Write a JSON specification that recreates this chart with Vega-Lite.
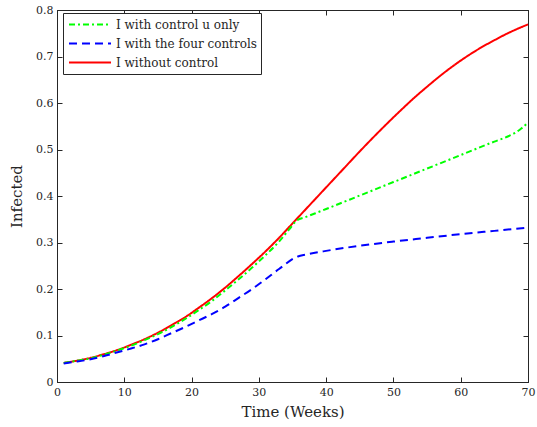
{
  "$schema": "https://vega.github.io/schema/vega-lite/v6.json",
  "width": 471,
  "height": 372,
  "autosize": {"type": "none"},
  "padding": {"left": 57, "top": 10, "right": 9, "bottom": 45},
  "background": "white",
  "config": {"view": {"stroke": "#262626", "strokeWidth": 1}, "font": "DejaVu Serif"},
  "data": {"values": [
    {"t": 1, "v": 0.041, "s": "I without control"},
    {"t": 3, "v": 0.046, "s": "I without control"},
    {"t": 5, "v": 0.052, "s": "I without control"},
    {"t": 7, "v": 0.060, "s": "I without control"},
    {"t": 9, "v": 0.069, "s": "I without control"},
    {"t": 11, "v": 0.080, "s": "I without control"},
    {"t": 13, "v": 0.092, "s": "I without control"},
    {"t": 15, "v": 0.106, "s": "I without control"},
    {"t": 17, "v": 0.122, "s": "I without control"},
    {"t": 19, "v": 0.139, "s": "I without control"},
    {"t": 21, "v": 0.159, "s": "I without control"},
    {"t": 23, "v": 0.180, "s": "I without control"},
    {"t": 25, "v": 0.203, "s": "I without control"},
    {"t": 27, "v": 0.228, "s": "I without control"},
    {"t": 29, "v": 0.254, "s": "I without control"},
    {"t": 31, "v": 0.281, "s": "I without control"},
    {"t": 33, "v": 0.310, "s": "I without control"},
    {"t": 35, "v": 0.341, "s": "I without control"},
    {"t": 37, "v": 0.372, "s": "I without control"},
    {"t": 39, "v": 0.403, "s": "I without control"},
    {"t": 41, "v": 0.434, "s": "I without control"},
    {"t": 43, "v": 0.465, "s": "I without control"},
    {"t": 45, "v": 0.496, "s": "I without control"},
    {"t": 47, "v": 0.526, "s": "I without control"},
    {"t": 49, "v": 0.555, "s": "I without control"},
    {"t": 51, "v": 0.583, "s": "I without control"},
    {"t": 53, "v": 0.610, "s": "I without control"},
    {"t": 55, "v": 0.635, "s": "I without control"},
    {"t": 57, "v": 0.659, "s": "I without control"},
    {"t": 59, "v": 0.681, "s": "I without control"},
    {"t": 61, "v": 0.701, "s": "I without control"},
    {"t": 63, "v": 0.719, "s": "I without control"},
    {"t": 65, "v": 0.735, "s": "I without control"},
    {"t": 67, "v": 0.750, "s": "I without control"},
    {"t": 69, "v": 0.763, "s": "I without control"},
    {"t": 70, "v": 0.769, "s": "I without control"},

    {"t": 1, "v": 0.041, "s": "I with control u only"},
    {"t": 3, "v": 0.046, "s": "I with control u only"},
    {"t": 5, "v": 0.051, "s": "I with control u only"},
    {"t": 7, "v": 0.059, "s": "I with control u only"},
    {"t": 9, "v": 0.068, "s": "I with control u only"},
    {"t": 11, "v": 0.078, "s": "I with control u only"},
    {"t": 13, "v": 0.090, "s": "I with control u only"},
    {"t": 15, "v": 0.103, "s": "I with control u only"},
    {"t": 17, "v": 0.118, "s": "I with control u only"},
    {"t": 19, "v": 0.135, "s": "I with control u only"},
    {"t": 21, "v": 0.154, "s": "I with control u only"},
    {"t": 23, "v": 0.174, "s": "I with control u only"},
    {"t": 25, "v": 0.197, "s": "I with control u only"},
    {"t": 27, "v": 0.221, "s": "I with control u only"},
    {"t": 29, "v": 0.246, "s": "I with control u only"},
    {"t": 31, "v": 0.273, "s": "I with control u only"},
    {"t": 33, "v": 0.302, "s": "I with control u only"},
    {"t": 34.5, "v": 0.328, "s": "I with control u only"},
    {"t": 35.6, "v": 0.347, "s": "I with control u only"},
    {"t": 37, "v": 0.355, "s": "I with control u only"},
    {"t": 40, "v": 0.372, "s": "I with control u only"},
    {"t": 45, "v": 0.401, "s": "I with control u only"},
    {"t": 50, "v": 0.430, "s": "I with control u only"},
    {"t": 55, "v": 0.459, "s": "I with control u only"},
    {"t": 60, "v": 0.488, "s": "I with control u only"},
    {"t": 65, "v": 0.517, "s": "I with control u only"},
    {"t": 67, "v": 0.528, "s": "I with control u only"},
    {"t": 68, "v": 0.535, "s": "I with control u only"},
    {"t": 69, "v": 0.545, "s": "I with control u only"},
    {"t": 70, "v": 0.558, "s": "I with control u only"},

    {"t": 1, "v": 0.040, "s": "I with the four controls"},
    {"t": 3, "v": 0.044, "s": "I with the four controls"},
    {"t": 5, "v": 0.049, "s": "I with the four controls"},
    {"t": 7, "v": 0.056, "s": "I with the four controls"},
    {"t": 9, "v": 0.064, "s": "I with the four controls"},
    {"t": 11, "v": 0.072, "s": "I with the four controls"},
    {"t": 13, "v": 0.081, "s": "I with the four controls"},
    {"t": 15, "v": 0.092, "s": "I with the four controls"},
    {"t": 17, "v": 0.105, "s": "I with the four controls"},
    {"t": 19, "v": 0.118, "s": "I with the four controls"},
    {"t": 21, "v": 0.132, "s": "I with the four controls"},
    {"t": 23, "v": 0.146, "s": "I with the four controls"},
    {"t": 25, "v": 0.162, "s": "I with the four controls"},
    {"t": 27, "v": 0.181, "s": "I with the four controls"},
    {"t": 29, "v": 0.200, "s": "I with the four controls"},
    {"t": 31, "v": 0.221, "s": "I with the four controls"},
    {"t": 33, "v": 0.243, "s": "I with the four controls"},
    {"t": 35.8, "v": 0.270, "s": "I with the four controls"},
    {"t": 37, "v": 0.274, "s": "I with the four controls"},
    {"t": 40, "v": 0.282, "s": "I with the four controls"},
    {"t": 45, "v": 0.293, "s": "I with the four controls"},
    {"t": 50, "v": 0.302, "s": "I with the four controls"},
    {"t": 55, "v": 0.310, "s": "I with the four controls"},
    {"t": 60, "v": 0.318, "s": "I with the four controls"},
    {"t": 65, "v": 0.325, "s": "I with the four controls"},
    {"t": 70, "v": 0.332, "s": "I with the four controls"}
  ]},
  "layer": [
    {
      "mark": {"type": "line", "strokeWidth": 2, "interpolate": "monotone"},
      "encoding": {
        "x": {"field": "t", "type": "quantitative",
          "scale": {"domain": [0, 70], "nice": false, "zero": false},
          "axis": {"title": "Time (Weeks)", "values": [0, 10, 20, 30, 40, 50, 60, 70], "tickSize": -5, "labelPadding": 9,
            "grid": false, "domainColor": "#262626", "tickColor": "#262626", "labelColor": "#262626", "titleColor": "#262626",
            "labelFont": "DejaVu Serif", "titleFont": "DejaVu Serif", "labelFontSize": 11, "titleFontSize": 15, "titleFontWeight": "normal",
            "labelFlush": false, "titlePadding": 7}},
        "y": {"field": "v", "type": "quantitative",
          "scale": {"domain": [0, 0.8], "nice": false},
          "axis": {"title": "Infected", "values": [0, 0.1, 0.2, 0.3, 0.4, 0.5, 0.6, 0.7, 0.8], "format": ".1~f", "tickSize": -5, "labelPadding": 9,
            "grid": false, "domainColor": "#262626", "tickColor": "#262626", "labelColor": "#262626", "titleColor": "#262626",
            "labelFont": "DejaVu Serif", "titleFont": "DejaVu Serif", "labelFontSize": 11, "titleFontSize": 15, "titleFontWeight": "normal",
            "labelFlush": false, "titlePadding": 11}},
        "color": {"field": "s", "type": "nominal",
          "scale": {"domain": ["I with control u only", "I with the four controls", "I without control"], "range": ["#00ff00", "#0000ff", "#ff0000"]},
          "legend": {"title": null, "orient": "none", "legendX": 6, "legendY": 3, "symbolType": "stroke", "symbolSize": 1764, "symbolStrokeWidth": 2,
            "clipHeight": 15, "rowPadding": 4, "labelFont": "DejaVu Serif", "labelFontSize": 12, "labelColor": "#262626",
            "strokeColor": "#262626", "fillColor": "white", "padding": 4, "labelOffset": 4, "symbolOffset": 1, "cornerRadius": 0, "labelLimit": 300}},
        "strokeDash": {"field": "s", "type": "nominal",
          "scale": {"domain": ["I with control u only", "I with the four controls", "I without control"], "range": [[6, 3, 2, 3], [8, 5], [1, 0]]},
          "legend": {"title": null, "orient": "none", "legendX": 6, "legendY": 3, "symbolType": "stroke", "symbolSize": 1764, "symbolStrokeWidth": 2,
            "clipHeight": 15, "rowPadding": 4, "labelFont": "DejaVu Serif", "labelFontSize": 12, "labelColor": "#262626",
            "strokeColor": "#262626", "fillColor": "white", "padding": 4, "labelOffset": 4, "symbolOffset": 1, "cornerRadius": 0, "labelLimit": 300}}
      }
    },
    {
      "mark": {"type": "line", "opacity": 0},
      "encoding": {
        "x": {"field": "t", "type": "quantitative",
          "axis": {"orient": "top", "title": null, "labels": false, "values": [0, 10, 20, 30, 40, 50, 60, 70], "tickSize": -5, "grid": false,
            "domainColor": "#262626", "tickColor": "#262626"}},
        "y": {"field": "v", "type": "quantitative",
          "axis": {"orient": "right", "title": null, "labels": false, "values": [0, 0.1, 0.2, 0.3, 0.4, 0.5, 0.6, 0.7, 0.8], "tickSize": -5, "grid": false,
            "domainColor": "#262626", "tickColor": "#262626"}},
        "detail": {"field": "s", "type": "nominal"}
      }
    }
  ],
  "resolve": {"axis": {"x": "independent", "y": "independent"}}
}
